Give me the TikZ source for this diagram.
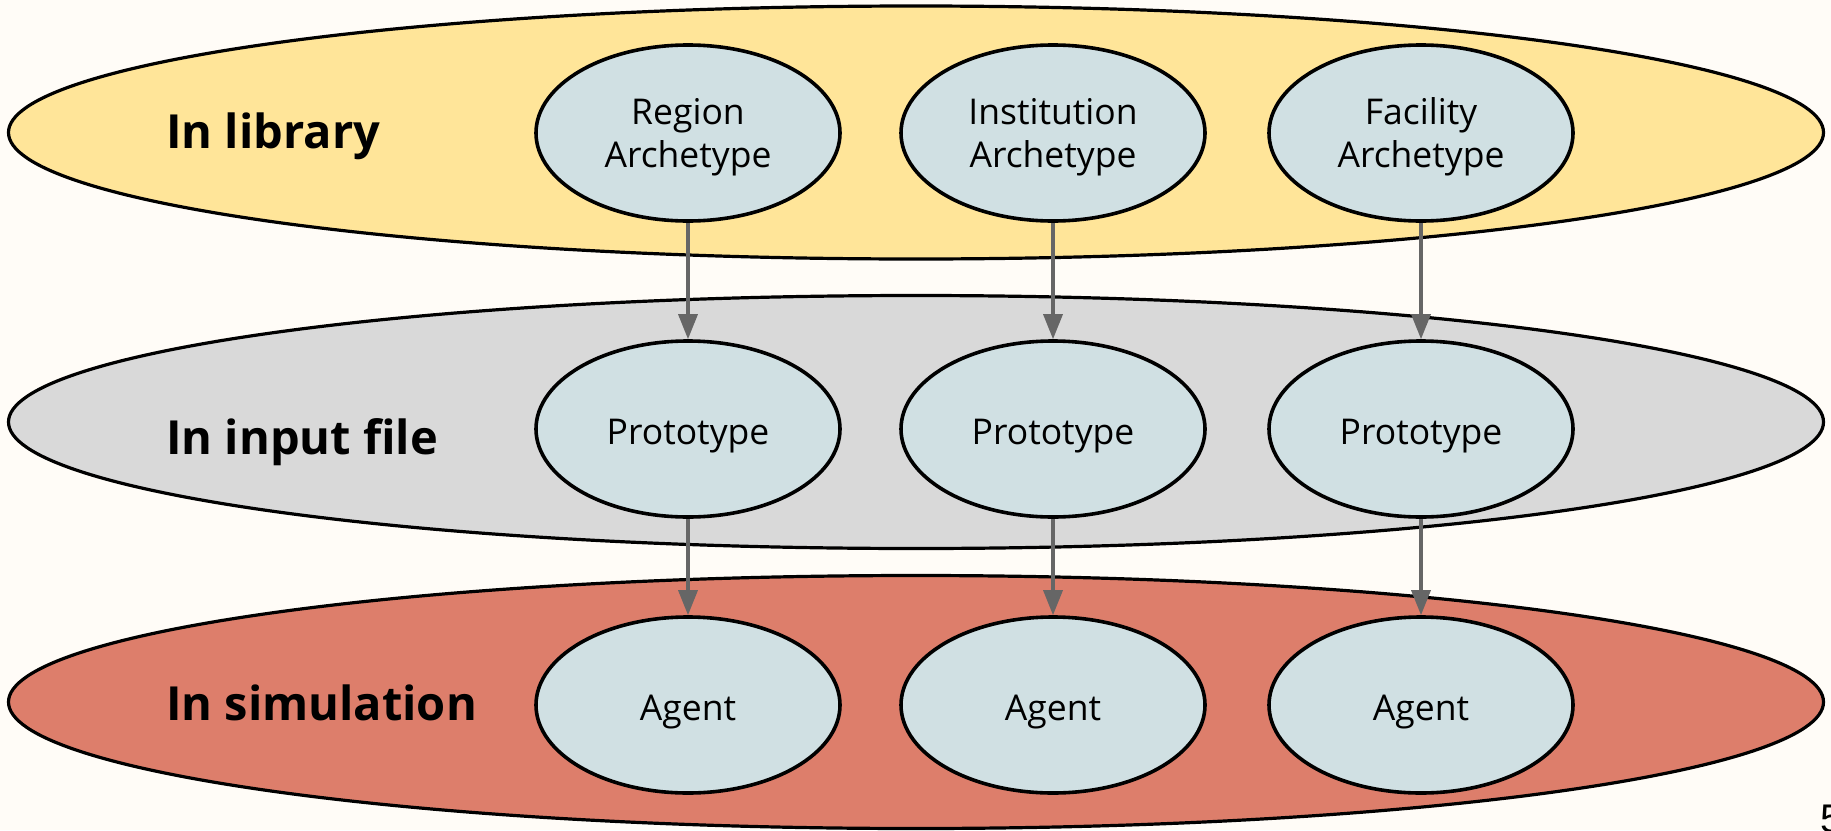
\documentclass[tikz,border=0pt]{standalone}
\usepackage{fontspec}
\setmainfont{Open Sans}
\newfontfamily\pagefont{Liberation Sans}
\usetikzlibrary{shapes.geometric,arrows.meta}
\definecolor{paper}{HTML}{FFFCF7}
\definecolor{libfill}{HTML}{FFE599}
\definecolor{inputfill}{HTML}{D9D9D9}
\definecolor{simfill}{HTML}{DD7E6B}
\definecolor{itemfill}{HTML}{D0E0E3}
\definecolor{linkgray}{HTML}{666666}

\begin{document}
\begin{tikzpicture}[x=1pt,y=-1pt,
  layer/.style={ellipse, draw=black, line width=3.2pt, minimum width=1815pt,
    minimum height=253pt, inner sep=0pt},
  item/.style={ellipse, draw=black, line width=3.6pt, fill=itemfill,
    minimum width=304pt, minimum height=176pt, inner sep=0pt,
    font=\fontsize{35.5}{43}\selectfont, align=center},
  oneline/.style={text height=30pt, text depth=0pt},
  twoline/.style={text depth=0pt},
  layertitle/.style={anchor=base west, inner sep=0pt,
    font=\fontsize{47}{56}\selectfont\bfseries},
  link/.style={draw=linkgray, line width=3.4pt,
    -{Triangle[length=25pt,width=19pt]}}]

% page and frame
\fill[paper] (0,0) rectangle (1831,830);
\useasboundingbox (0,0) rectangle (1831,830);

% the three stages
\node[layer, fill=libfill]   (lib)   at (916,132.5) {};
\node[layer, fill=inputfill] (input) at (916,422)   {};
\node[layer, fill=simfill]   (sim)   at (916,702)   {};

\node[layertitle] (libT)   at (166,148) {In library};
\node[layertitle] (inputT) at (166,454) {In input file};
\node[layertitle] (simT)   at (166,720) {In simulation};

% archetypes
\node[item, twoline] (regA)  at (688,133)  {Region\\Archetype};
\node[item, twoline] (instA) at (1053,133) {Institution\\Archetype};
\node[item, twoline] (facA)  at (1421,133) {Facility\\Archetype};

% prototypes
\node[item, oneline] (regP)  at (688,429)  {Prototype};
\node[item, oneline] (instP) at (1053,429) {Prototype};
\node[item, oneline] (facP)  at (1421,429) {Prototype};

% agents
\node[item, oneline] (regG)  at (688,705)  {Agent};
\node[item, oneline] (instG) at (1053,705) {Agent};
\node[item, oneline] (facG)  at (1421,705) {Agent};

% links between stages
\draw[link] (regA)  -- (regP);
\draw[link] (instA) -- (instP);
\draw[link] (facA)  -- (facP);
\draw[link] (regP)  -- (regG);
\draw[link] (instP) -- (instG);
\draw[link] (facP)  -- (facG);

% page number
\node[anchor=base west, inner sep=0pt, font=\pagefont\fontsize{40}{48}\selectfont]
  (pageno) at (1820,832) {5};
\end{tikzpicture}
\end{document}
